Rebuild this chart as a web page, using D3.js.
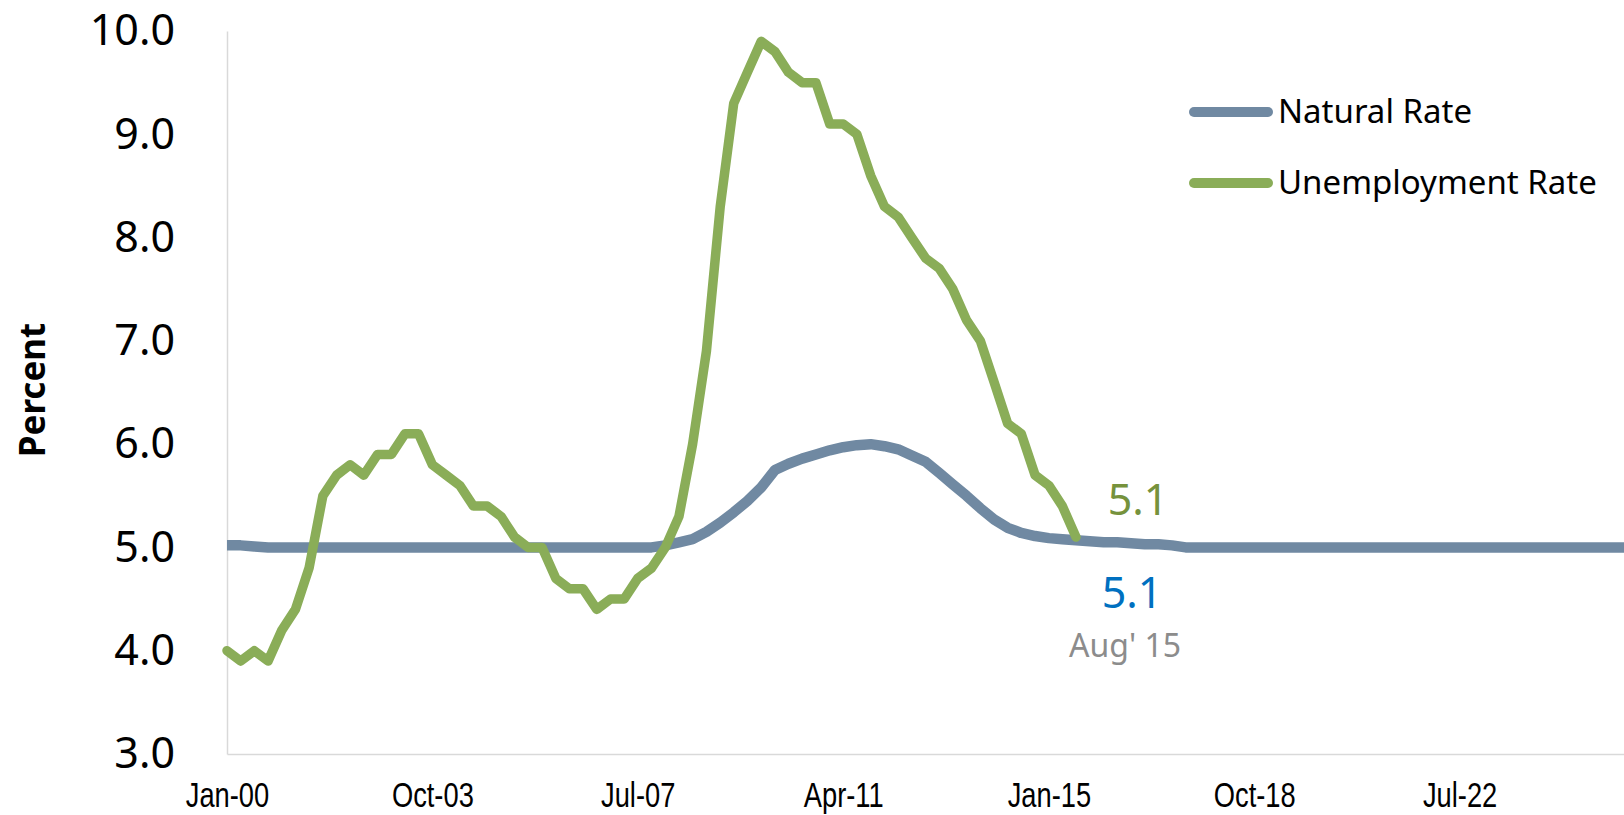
<!DOCTYPE html>
<html>
<head>
<meta charset="utf-8">
<script src="https://cdnjs.cloudflare.com/ajax/libs/d3/7.8.5/d3.min.js"></script>
<style>
  body { margin: 0; background: #fff; }
  svg { display: block; }
</style>
</head>
<body>
<div id="chart"></div>
<script>
// quarterly series, first quarter = Jan 2000
var startDate = new Date(2000, 0, 1);

var unempRate = [
  4.0, 3.9, 4.0, 3.9, 4.2, 4.4, 4.8, 5.5, 5.7, 5.8, 5.7, 5.9, 5.9, 6.1, 6.1, 5.8,
  5.7, 5.6, 5.4, 5.4, 5.3, 5.1, 5.0, 5.0, 4.7, 4.6, 4.6, 4.4, 4.5, 4.5, 4.7, 4.8,
  5.0, 5.3, 6.0, 6.9, 8.3, 9.3, 9.6, 9.9, 9.8, 9.6, 9.5, 9.5, 9.1, 9.1, 9.0, 8.6,
  8.3, 8.2, 8.0, 7.8, 7.7, 7.5, 7.2, 7.0, 6.6, 6.2, 6.1, 5.7, 5.6, 5.4, 5.1
];

var natRate = [
  5.02, 5.02, 5.01, 5.0, 5.0, 5.0, 5.0, 5.0, 5.0, 5.0, 5.0, 5.0, 5.0, 5.0, 5.0, 5.0,
  5.0, 5.0, 5.0, 5.0, 5.0, 5.0, 5.0, 5.0, 5.0, 5.0, 5.0, 5.0, 5.0, 5.0, 5.0, 5.0,
  5.02, 5.05, 5.08, 5.15, 5.24, 5.34, 5.45, 5.58, 5.75, 5.81, 5.86, 5.9, 5.94, 5.97, 5.99, 6.0,
  5.98, 5.95, 5.89, 5.83, 5.72, 5.61, 5.5, 5.38, 5.27, 5.19, 5.14, 5.11, 5.09, 5.08, 5.07, 5.06,
  5.05, 5.05, 5.04, 5.03, 5.03, 5.02, 5.0, 5.0, 5.0, 5.0, 5.0, 5.0, 5.0, 5.0, 5.0, 5.0,
  5.0, 5.0, 5.0, 5.0, 5.0, 5.0, 5.0, 5.0, 5.0, 5.0, 5.0, 5.0, 5.0, 5.0, 5.0, 5.0,
  5.0, 5.0, 5.0, 5.0, 5.0, 5.0, 5.0
];

var xTickDates = ["2000-01", "2003-10", "2007-07", "2011-04", "2015-01", "2018-10", "2022-07"];
var yTicks = [3, 4, 5, 6, 7, 8, 9, 10];

var legendNames = ["Natural Rate", "Unemployment Rate"];
var lastLabel = "Aug' 15";

var width = 1624, height = 815;
var plotLeft = 227, plotTop = 31, plotBottom = 754, plotRight = 1624;

var blue = "#7089a2", green = "#8aad58";

var parseMonth = d3.timeParse("%Y-%m");
var fmtMonth = d3.timeFormat("%b-%y");

function qDate(i) { return d3.timeMonth.offset(startDate, 3 * i); }

var x = d3.scaleTime()
  .domain([startDate, d3.timeMonth.offset(startDate, 306)])
  .range([plotLeft, plotRight]);

var y = d3.scaleLinear()
  .domain([3, 10])
  .range([plotBottom, plotTop]);

var svg = d3.select("#chart").append("svg")
  .attr("width", width)
  .attr("height", height);

// axes
var yAxis = svg.append("g")
  .attr("transform", "translate(" + plotLeft + ",0)")
  .call(d3.axisLeft(y).tickValues(yTicks).tickFormat(d3.format(".1f")).tickSize(0).tickPadding(52));
yAxis.select(".domain").attr("stroke", "#d9d9d9").attr("stroke-width", 1.5);
yAxis.selectAll("text")
  .style("font-family", "'Noto Sans', 'Open Sans', sans-serif")
  .style("font-size", "43px")
  .attr("fill", "#000");

var xAxis = svg.append("g")
  .attr("transform", "translate(0," + plotBottom + ")")
  .call(d3.axisBottom(x).tickValues(xTickDates.map(parseMonth)).tickFormat(fmtMonth).tickSize(0).tickPadding(28));
xAxis.select(".domain").attr("stroke", "#d9d9d9").attr("stroke-width", 1.5);
xAxis.selectAll("text")
  .style("font-family", "'Liberation Sans', Arial, sans-serif")
  .style("font-size", "35px")
  .attr("fill", "#000")
  .attr("transform", "scale(0.78,1)");

svg.append("text")
  .attr("transform", "translate(45,390) rotate(-90)")
  .attr("text-anchor", "middle")
  .style("font-family", "'Noto Sans', sans-serif")
  .style("font-size", "35px")
  .style("font-weight", "bold")
  .text("Percent");

// lines
var line = d3.line()
  .x(function(d, i) { return x(qDate(i)); })
  .y(function(d) { return y(d); });

svg.append("path")
  .datum(natRate)
  .attr("d", line)
  .attr("fill", "none")
  .attr("stroke", blue)
  .attr("stroke-width", 10.5)
  .attr("stroke-linejoin", "round");

svg.append("path")
  .datum(unempRate)
  .attr("d", line)
  .attr("fill", "none")
  .attr("stroke", green)
  .attr("stroke-width", 9.5)
  .attr("stroke-linejoin", "round")
  .attr("stroke-linecap", "round");

// legend
var legend = svg.append("g")
  .selectAll("g")
  .data(legendNames)
  .enter()
  .append("g")
  .attr("transform", function(d, i) { return "translate(1194," + (112 + i * 71) + ")"; });

legend.append("line")
  .attr("x1", 0).attr("x2", 74)
  .attr("stroke", function(d, i) { return i === 0 ? blue : green; })
  .attr("stroke-width", 10)
  .attr("stroke-linecap", "round");

legend.append("text")
  .attr("x", 84)
  .attr("y", 11)
  .style("font-family", "'Noto Sans', sans-serif")
  .style("font-size", "33px")
  .attr("fill", "#000")
  .text(function(d) { return d; });

// end-point annotations
var lastI = unempRate.length - 1;
var lx = x(qDate(lastI));

svg.append("text")
  .attr("x", lx + 62)
  .attr("y", y(unempRate[lastI]) - 22)
  .attr("text-anchor", "middle")
  .style("font-family", "'Noto Sans', sans-serif")
  .style("font-size", "43px")
  .attr("fill", "#76923c")
  .text(d3.format(".1f")(unempRate[lastI]));

svg.append("text")
  .attr("x", lx + 56)
  .attr("y", y(natRate[lastI]) + 68)
  .attr("text-anchor", "middle")
  .style("font-family", "'Noto Sans', sans-serif")
  .style("font-size", "43px")
  .attr("fill", "#0070c0")
  .text(d3.format(".1f")(natRate[lastI]));

svg.append("text")
  .attr("x", lx + 49)
  .attr("y", y(natRate[lastI]) + 117)
  .attr("text-anchor", "middle")
  .style("font-family", "'Noto Sans', sans-serif")
  .style("font-size", "32px")
  .attr("fill", "#8c8c8c")
  .text(lastLabel);
</script>
</body>
</html>
